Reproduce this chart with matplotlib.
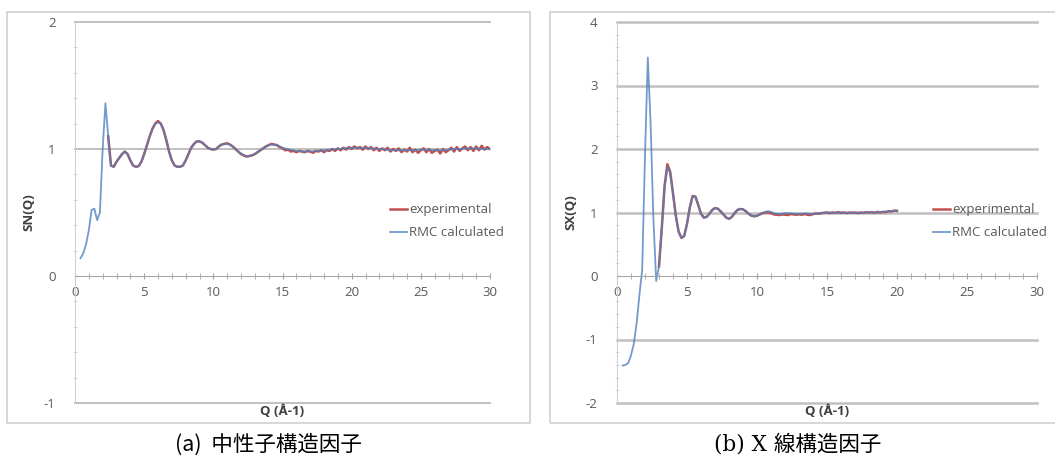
import matplotlib
matplotlib.use("Agg")
import matplotlib.pyplot as plt
import numpy as np
from matplotlib.patches import Rectangle
from matplotlib.ticker import MultipleLocator

plt.rcParams['font.family'] = ['Open Sans', 'DejaVu Sans']
plt.rcParams['axes.unicode_minus'] = False

# (a) neutron S(Q): RMC calculated
q_n_rmc = np.concatenate([np.linspace(0.4, 14.8, 73), np.linspace(15.0, 30.0, 31)])
sn_rmc = [
    0.14, 0.18, 0.25, 0.36, 0.52, 0.53, 0.44, 0.50, 1.00, 1.36,
    1.10, 0.87, 0.86, 0.90, 0.93, 0.96, 0.98, 0.96, 0.91, 0.87,
    0.86, 0.865, 0.90, 0.96, 1.03, 1.10, 1.16, 1.20, 1.21, 1.20,
    1.15, 1.07, 0.98, 0.91, 0.87, 0.86, 0.86, 0.87, 0.91, 0.96,
    1.01, 1.04, 1.06, 1.06, 1.05, 1.03, 1.01, 1.00, 0.995, 1.00,
    1.02, 1.035, 1.04, 1.04, 1.035, 1.02, 1.00, 0.98, 0.965, 0.95,
    0.945, 0.945, 0.95, 0.96, 0.975, 0.99, 1.005, 1.02, 1.03, 1.035,
    1.035, 1.03, 1.02,
    1.01, 0.995, 0.985, 0.98, 0.98, 0.985, 0.99, 0.995, 1.0, 1.005,
    1.01, 1.01, 1.01, 1.005, 1.0, 0.995, 0.99, 0.99, 0.99, 0.99,
    0.995, 0.995, 0.99, 0.99, 0.995, 1.0, 1.0, 1.005, 1.005, 1.0,
    1.0,
]

# (a) neutron S(Q): experimental
q_n_exp = np.linspace(2.4, 30.0, 139)
sn_exp = [
    1.10,
    0.87, 0.86, 0.90, 0.93, 0.96, 0.98, 0.96, 0.91, 0.87, 0.86,
    0.865, 0.90, 0.96, 1.03, 1.10, 1.16, 1.20, 1.22, 1.20, 1.15,
    1.07, 0.98, 0.91, 0.87, 0.86, 0.86, 0.87, 0.91, 0.96, 1.01,
    1.04, 1.06, 1.06, 1.05, 1.03, 1.01, 1.00, 0.995, 1.00, 1.02,
    1.035, 1.04, 1.045, 1.035, 1.02, 1.00, 0.98, 0.96, 0.95, 0.94,
    0.945, 0.95, 0.96, 0.975, 0.99, 1.005, 1.02, 1.03, 1.04, 1.035,
    1.03, 1.015, 1.005, 0.99, 0.995, 0.98, 0.985, 0.975, 0.985, 0.98,
    0.975, 0.985, 0.98, 0.97, 0.985, 0.98, 0.99, 0.975, 0.99, 0.985,
    1.0, 0.985, 1.005, 0.99, 1.01, 0.995, 1.015, 1.0, 1.02, 1.005,
    1.015, 0.995, 1.02, 1.0, 1.015, 0.99, 1.01, 0.985, 1.005, 0.99,
    1.01, 0.98, 1.0, 0.985, 1.005, 0.975, 0.995, 0.98, 1.01, 0.975,
    0.995, 0.97, 0.99, 1.005, 0.975, 1.0, 0.97, 0.985, 0.995, 0.965,
    1.0, 0.975, 0.99, 1.01, 0.98, 1.015, 0.985, 1.005, 1.02, 0.99,
    1.015, 0.985, 1.02, 0.99, 1.025, 0.995, 1.015, 1.0,
]

# (b) X-ray S(Q): RMC calculated
q_x_rmc = np.concatenate([np.linspace(0.4, 12.0, 59), np.linspace(12.5, 20.0, 16)])
sx_rmc = [
    -1.41, -1.40, -1.37, -1.25, -1.07, -0.75, -0.30, 0.10, 1.90, 3.44,
    2.40, 0.90, -0.08, 0.15, 0.75, 1.40, 1.72, 1.62, 1.30, 0.95,
    0.70, 0.60, 0.63, 0.82, 1.08, 1.25, 1.25, 1.12, 0.98, 0.92,
    0.93, 0.98, 1.04, 1.07, 1.06, 1.02, 0.97, 0.92, 0.90, 0.93,
    0.99, 1.04, 1.055, 1.05, 1.02, 0.98, 0.95, 0.94, 0.95, 0.97,
    0.99, 1.01, 1.02, 1.01, 0.99, 0.98, 0.975, 0.98, 0.99,
    0.985, 0.98, 0.985, 0.975, 0.99, 1.0, 0.995, 1.0, 0.995, 1.0,
    0.995, 1.005, 1.0, 1.01, 1.02, 1.03,
]

# (b) X-ray S(Q): experimental
q_x_exp = np.linspace(3.0, 20.0, 86)
sx_exp = [
    0.15, 0.76, 1.42, 1.76, 1.64, 1.30, 0.95, 0.70, 0.60, 0.63,
    0.82, 1.08, 1.26, 1.25, 1.12, 0.98, 0.92, 0.93, 0.98, 1.04,
    1.07, 1.06, 1.02, 0.97, 0.92, 0.90, 0.93, 0.99, 1.04, 1.055,
    1.05, 1.02, 0.98, 0.95, 0.94, 0.95, 0.97, 0.99, 1.0, 1.0,
    0.99, 0.97, 0.965, 0.96, 0.97, 0.965, 0.96, 0.975, 0.97, 0.965,
    0.97, 0.965, 0.975, 0.965, 0.96, 0.975, 0.985, 0.98, 0.99, 0.995,
    1.0, 0.99, 1.0, 0.995, 1.005, 0.995, 1.0, 0.99, 1.0, 0.995,
    1.0, 0.99, 1.0, 0.995, 1.005, 1.0, 1.005, 0.995, 1.01, 1.0,
    1.01, 1.005, 1.02, 1.015, 1.03, 1.025,
]

W, H = 1055, 463
fig = plt.figure(figsize=(W / 100, H / 100), dpi=100)

red = '#c0504d'
blue = '#4f81bd'
grid_c = '#c0c0c0'
txt_c = '#595959'


def px(x0, y0, x1, y1):
    return [x0 / W, 1 - y1 / H, (x1 - x0) / W, (y1 - y0) / H]


def panel(rect, box, q_exp, s_exp, q_rmc, s_rmc, ylim, ylabel, leg_xy, grid_lw):
    fig.patches.append(Rectangle((box[0] / W, 1 - box[3] / H), (box[2] - box[0]) / W,
                                 (box[3] - box[1]) / H, transform=fig.transFigure,
                                 fill=False, edgecolor='#cfcfcf', lw=1.2))
    ax = fig.add_axes(px(*rect))
    ax.plot(q_exp, s_exp, color=red, lw=1.8, label='experimental')
    ax.plot(q_rmc, s_rmc, color=blue, lw=1.3, alpha=0.8, label='RMC calculated')
    ax.set_xlim(0, 30)
    ax.set_ylim(*ylim)
    for y in range(ylim[0], ylim[1] + 1):
        if y != 0:
            ax.axhline(y, color=grid_c, lw=grid_lw, zorder=0, clip_on=False)
    for s in ['top', 'right']:
        ax.spines[s].set_visible(False)
    ax.spines['bottom'].set_position(('data', 0))
    ax.spines['bottom'].set_color('#a6a6a6')
    ax.spines['left'].set_color('#d0d0d0')
    ax.xaxis.set_major_locator(MultipleLocator(5))
    ax.xaxis.set_minor_locator(MultipleLocator(1))
    ax.yaxis.set_major_locator(MultipleLocator(1))
    ax.yaxis.set_minor_locator(MultipleLocator(0.2))
    ax.tick_params(axis='x', which='both', direction='inout', colors='#a6a6a6',
                   labelcolor=txt_c, labelsize=9.5, pad=5)
    ax.tick_params(axis='x', which='major', length=5)
    ax.tick_params(axis='x', which='minor', length=4)
    ax.tick_params(axis='y', which='both', direction='inout', colors='#d0d0d0',
                   labelcolor=txt_c, labelsize=9.5, pad=14)
    ax.tick_params(axis='y', which='major', length=0)
    ax.tick_params(axis='y', which='minor', length=3)
    ax.set_ylabel(ylabel, fontsize=9.5, fontweight='bold', color='#404040', labelpad=6)
    ax.text(0.5, -0.022, 'Q (Å-1)', transform=ax.transAxes, ha='center', va='center',
            fontsize=9.5, fontweight='bold', color='#404040')
    ax.legend(loc='upper left', bbox_to_anchor=(leg_xy[0] / W, 1 - leg_xy[1] / H),
              bbox_transform=fig.transFigure, frameon=False, fontsize=9.5,
              handlelength=1.3, handletextpad=0.15, labelspacing=0.75,
              borderaxespad=0, labelcolor=txt_c)
    return ax


panel((75, 22, 490, 403), (7, 12, 530, 423), q_n_exp, sn_exp, q_n_rmc, sn_rmc,
      (-1, 2), 'SN(Q)', (385, 198), 1.4)
panel((617, 22, 1037, 403), (550, 12, 1060, 423), q_x_exp, sx_exp, q_x_rmc, sx_rmc,
      (-2, 4), 'SX(Q)', (928, 198), 1.8)

fig.text(268 / W, 1 - 445 / H, '(a)  中性子構造因子', ha='center', va='center',
         fontsize=15.5, family=['Noto Sans CJK JP', 'DejaVu Sans'])
fig.text(798 / W, 1 - 445 / H, '(b) X 線構造因子', ha='center', va='center',
         fontsize=15.5, family=['DejaVu Serif', 'Noto Sans CJK JP'])

fig.savefig('out.png', dpi=100)
